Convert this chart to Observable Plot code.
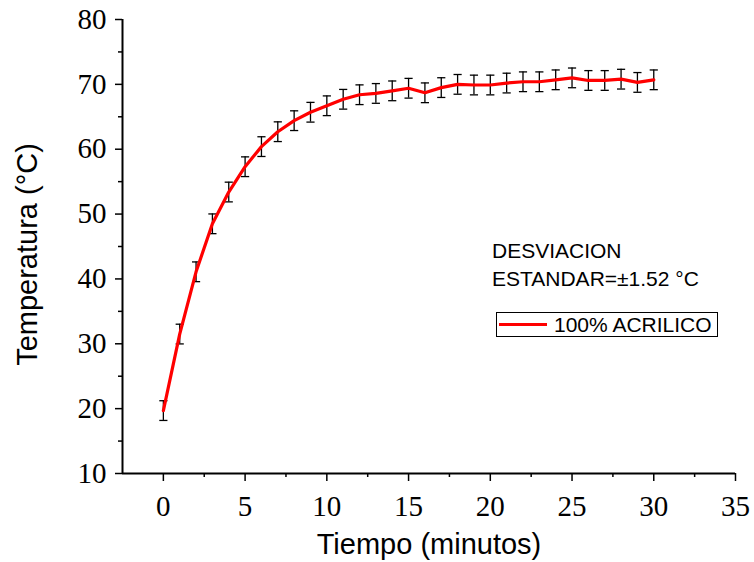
<!DOCTYPE html>
<html><head><meta charset="utf-8">
<script src="https://cdn.jsdelivr.net/npm/d3@7"></script>
<script src="https://cdn.jsdelivr.net/npm/@observablehq/plot@0.6"></script>
<style>
body{margin:0;background:#fff;}
#wrap{position:relative;width:754px;height:562px;}
</style></head><body><div id="wrap"></div>
<script>
const minutes = [0,1,2,3,4,5,6,7,8,9,10,11,12,13,14,15,16,17,18,19,20,21,22,23,24,25,26,27,28,29,30];
const temperature = [19.7,31.5,41.1,48.5,53.4,57.3,60.4,62.7,64.4,65.7,66.7,67.7,68.4,68.6,69.0,69.4,68.7,69.5,70.0,69.9,69.9,70.2,70.4,70.4,70.7,71.0,70.6,70.6,70.8,70.3,70.7];
const stdDev = [1.52,1.52,1.52,1.52,1.52,1.52,1.52,1.52,1.52,1.52,1.52,1.52,1.52,1.52,1.52,1.52,1.52,1.52,1.52,1.52,1.52,1.52,1.52,1.52,1.52,1.52,1.52,1.52,1.52,1.52,1.52];
const xTicks = [0,5,10,15,20,25,30,35];
const xMinorTicks = [2.5,7.5,12.5,17.5,22.5,27.5,32.5];
const yTicks = [10,20,30,40,50,60,70,80];
const yMinorTicks = [15,25,35,45,55,65,75];
const xDomain = [-2.5,35];
const yDomain = [10,80];
const xTitle = "Tiempo (minutos)";
const yTitle = "Temperatura (°C)";
const seriesName = "100% ACRILICO";
const noteLines = ["DESVIACION", "ESTANDAR=±1.52 °C"];

const data = minutes.map((m,i)=>({x:m, y:temperature[i], lo:temperature[i]-stdDev[i], hi:temperature[i]+stdDev[i]}));
const capHalf = 0.25;
const sans = "Liberation Sans, Arial, sans-serif";

const chart = Plot.plot({
  width: 754, height: 562,
  marginLeft: 122, marginRight: 19, marginTop: 19, marginBottom: 89,
  style: {fontFamily: "Liberation Serif, serif", fontSize: "29px", color: "black", background: "white", overflow: "visible"},
  x: {domain: xDomain, label: null},
  y: {domain: yDomain, label: null},
  marks: [
    Plot.axisY(yMinorTicks, {tickSize: 4, tickFormat: () => "", strokeWidth: 1.5}),
    Plot.axisX(xMinorTicks, {tickSize: 4, tickFormat: () => "", strokeWidth: 1.5}),
    Plot.axisY(yTicks, {tickSize: 7, tickPadding: 9, strokeWidth: 1.5, fontSize: 29, fontFamily: "Liberation Serif, serif", style: "letter-spacing:2px"}),
    Plot.axisX(xTicks, {tickSize: 8, tickPadding: 14, strokeWidth: 1.5, fontSize: 29, fontFamily: "Liberation Serif, serif"}),
    Plot.ruleX([xDomain[0]], {y1: yDomain[0], y2: yDomain[1], stroke: "black", strokeWidth: 2}),
    Plot.ruleY([yDomain[0]], {x1: xDomain[0], x2: xDomain[1], stroke: "black", strokeWidth: 2}),
    Plot.ruleX(data, {x: "x", y1: "lo", y2: "hi", stroke: "black", strokeWidth: 1.3}),
    Plot.link(data, {x1: d => d.x - capHalf, x2: d => d.x + capHalf, y1: "hi", y2: "hi", stroke: "black", strokeWidth: 1.3}),
    Plot.link(data, {x1: d => d.x - capHalf, x2: d => d.x + capHalf, y1: "lo", y2: "lo", stroke: "black", strokeWidth: 1.3}),
    Plot.line(data, {x: "x", y: "y", stroke: "#ff0000", strokeWidth: 3.2}),
    Plot.text([xTitle], {frameAnchor: "bottom", dy: 80, fontSize: 29, fontFamily: sans, fill: "black", textAnchor: "middle"}),
    Plot.text([yTitle], {frameAnchor: "left", dx: -95, dy: 8, rotate: -90, fontSize: 29, fontFamily: sans, fill: "black", textAnchor: "middle"})
  ]
});
document.getElementById("wrap").appendChild(chart);

const svg = d3.select(chart);
const note = svg.append("g").attr("font-family", sans).attr("font-size", 21).attr("fill", "black").attr("text-anchor", "start");
noteLines.forEach((t,i)=>{
  note.append("text").attr("x", 492).attr("y", 258 + i*28).attr("text-anchor", "start").text(t);
});
const leg = svg.append("g").attr("font-family", sans).attr("font-size", 21).attr("text-anchor", "start");
leg.append("rect").attr("x", 496.5).attr("y", 312.5).attr("width", 221).attr("height", 24).attr("fill", "white").attr("stroke", "black").attr("stroke-width", 1);
leg.append("line").attr("x1", 499).attr("x2", 547).attr("y1", 324.5).attr("y2", 324.5).attr("stroke", "#ff0000").attr("stroke-width", 3);
leg.append("text").attr("x", 554).attr("y", 332).attr("fill", "black").attr("text-anchor", "start").text(seriesName);
</script>
</body></html>
